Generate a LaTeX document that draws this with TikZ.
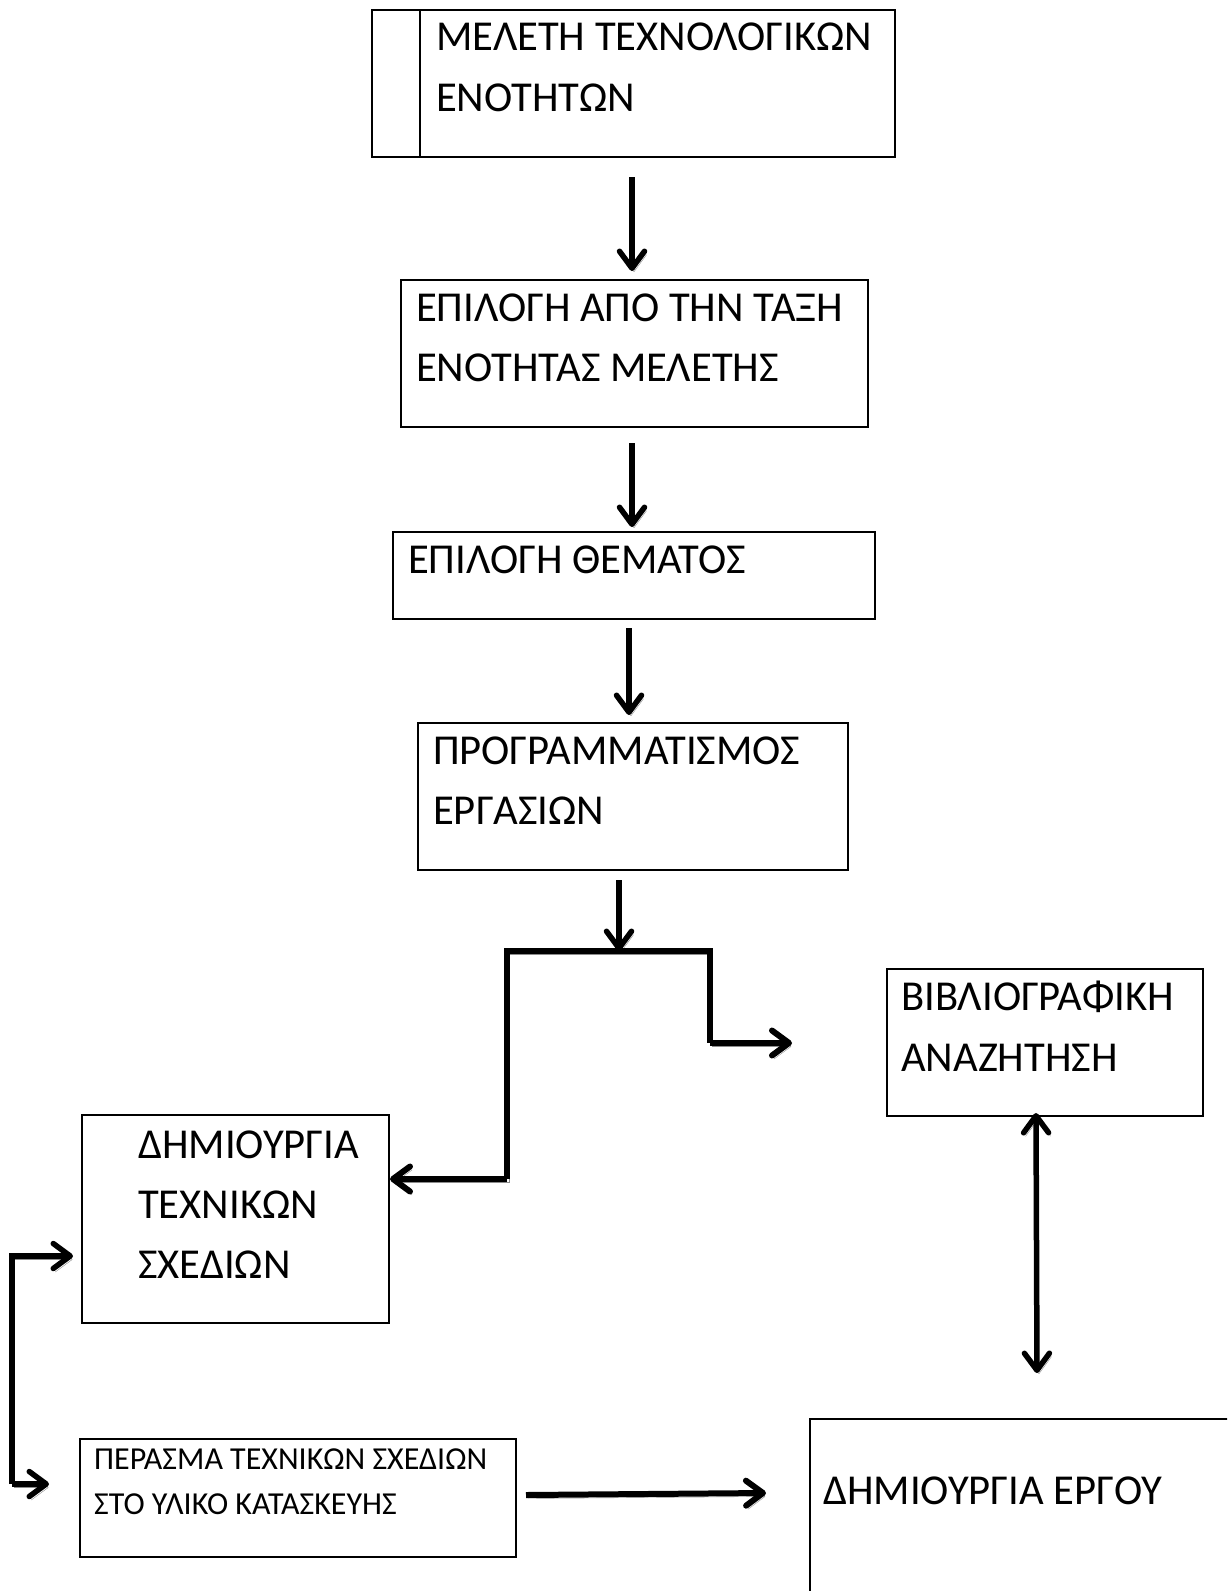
\documentclass[tikz,border=0pt]{standalone}
\usepackage{fontspec}
\setmainfont{Carlito}
\usetikzlibrary{arrows.meta}
\begin{document}
\begin{tikzpicture}[x=1pt,y=-1pt,
  box/.style={draw=black, line width=2pt, anchor=north west, inner sep=0pt},
  big/.style={anchor=base west, inner sep=0pt, font=\fontsize{42.6}{61}\selectfont},
  small/.style={anchor=base west, inner sep=0pt, font=\fontsize{32}{42}\selectfont},
  shadowed/.style={preaction={draw=black!45, transform canvas={shift={(2pt,-3.5pt)}}}},
  arr/.style={line width=5.5pt, shadowed, -{Straight Barb[round,length=17pt,width=25pt]}},
  conn/.style={line width=6pt, shadowed}]
\useasboundingbox (0,0) rectangle (1227,1591);
\clip (0,0) rectangle (1227,1591);
% boxes
\node[box, minimum width=523, minimum height=147] (b1) at (371,9) {};
\draw[line width=2pt] (420,9) -- (420,156);
\node[big] (t1a) at (436,50) {ΜΕΛΕΤΗ ΤΕΧΝΟΛΟΓΙΚΩΝ};
\node[big] (t1b) at (436,111) {ΕΝΟΤΗΤΩΝ};
\node[box, minimum width=467, minimum height=147] (b2) at (400,279) {};
\node[big] (t2a) at (416,321) {ΕΠΙΛΟΓΗ ΑΠΟ ΤΗΝ ΤΑΞΗ};
\node[big] (t2b) at (416,381) {ΕΝΟΤΗΤΑΣ ΜΕΛΕΤΗΣ};
\node[box, minimum width=482, minimum height=87] (b3) at (392,531) {};
\node[big] (t3) at (408,573) {ΕΠΙΛΟΓΗ ΘΕΜΑΤΟΣ};
\node[box, minimum width=430, minimum height=147] (b4) at (417,722) {};
\node[big] (t4a) at (433,764) {ΠΡΟΓΡΑΜΜΑΤΙΣΜΟΣ};
\node[big] (t4b) at (433,824) {ΕΡΓΑΣΙΩΝ};
\node[box, minimum width=316, minimum height=147] (b5) at (886,968) {};
\node[big] (t5a) at (901,1010) {ΒΙΒΛΙΟΓΡΑΦΙΚΗ};
\node[big] (t5b) at (901,1071) {ΑΝΑΖΗΤΗΣΗ};
\node[box, minimum width=307, minimum height=208] (b6) at (81,1114) {};
\node[big] (t6a) at (138,1158) {ΔΗΜΙΟΥΡΓΙΑ};
\node[big] (t6b) at (138,1218) {ΤΕΧΝΙΚΩΝ};
\node[big] (t6c) at (138,1278) {ΣΧΕΔΙΩΝ};
\node[box, minimum width=436, minimum height=118] (b7) at (79,1438) {};
\node[small] (t7a) at (94,1469) {ΠΕΡΑΣΜΑ ΤΕΧΝΙΚΩΝ ΣΧΕΔΙΩΝ};
\node[small] (t7b) at (94,1514) {ΣΤΟ ΥΛΙΚΟ ΚΑΤΑΣΚΕΥΗΣ};
\node[box, minimum width=430, minimum height=190] (b8) at (809,1418) {};
\node[big] (t8) at (823,1504) {ΔΗΜΙΟΥΡΓΙΑ ΕΡΓΟΥ};
% coordinates
\coordinate (j) at (619,951);
\coordinate (jl) at (507,951);
\coordinate (jr) at (710,951);
\coordinate (lb) at (507,1179);
\coordinate (rb) at (710,1043);
\coordinate (re) at (792,1043);
\coordinate (lpT) at (12,1256);
\coordinate (lpB) at (12,1484);
\coordinate (lpBe) at (49,1484);
\coordinate (a5s) at (526,1495);
\coordinate (a5e) at (766,1493);
% arrows
\draw[arr] (b1.south -| 632,0) ++(0,19) coordinate (a1s) -- ++(0,94) coordinate (a1e);
\draw[arr] (b2.south -| 632,0) ++(0,15) coordinate (a2s) -- ++(0,84) coordinate (a2e);
\draw[arr] (b3.south -| 629,0) ++(0,8) coordinate (a3s) -- ++(0,87) coordinate (a3e);
\draw[arr] (b4.south -| 619,0) ++(0,9) coordinate (a4s) -- (j);
\draw[conn, line join=miter] (j) -- (jl) -- (lb);
\draw[arr, line width=6pt] (lb) -- (b6.east |- lb);
\draw[conn, line join=miter] (j) -- (jr) -- (rb);
\draw[arr, line width=6pt] (rb) -- (re);
\draw[arr] (lpB) -- (lpT) -- ([xshift=-8pt]b6.west |- lpT);
\draw[arr] (lpB) -- (lpBe);
\draw[arr, line width=6pt] (a5s) -- (a5e);
\draw[line width=5.5pt, shadowed, {Straight Barb[round,length=17pt,width=25pt]}-{Straight Barb[round,length=17pt,width=25pt]}] ([xshift=-9pt,yshift=4pt]b5.south) -- (1037,1373) coordinate (dbe);
\end{tikzpicture}
\end{document}
